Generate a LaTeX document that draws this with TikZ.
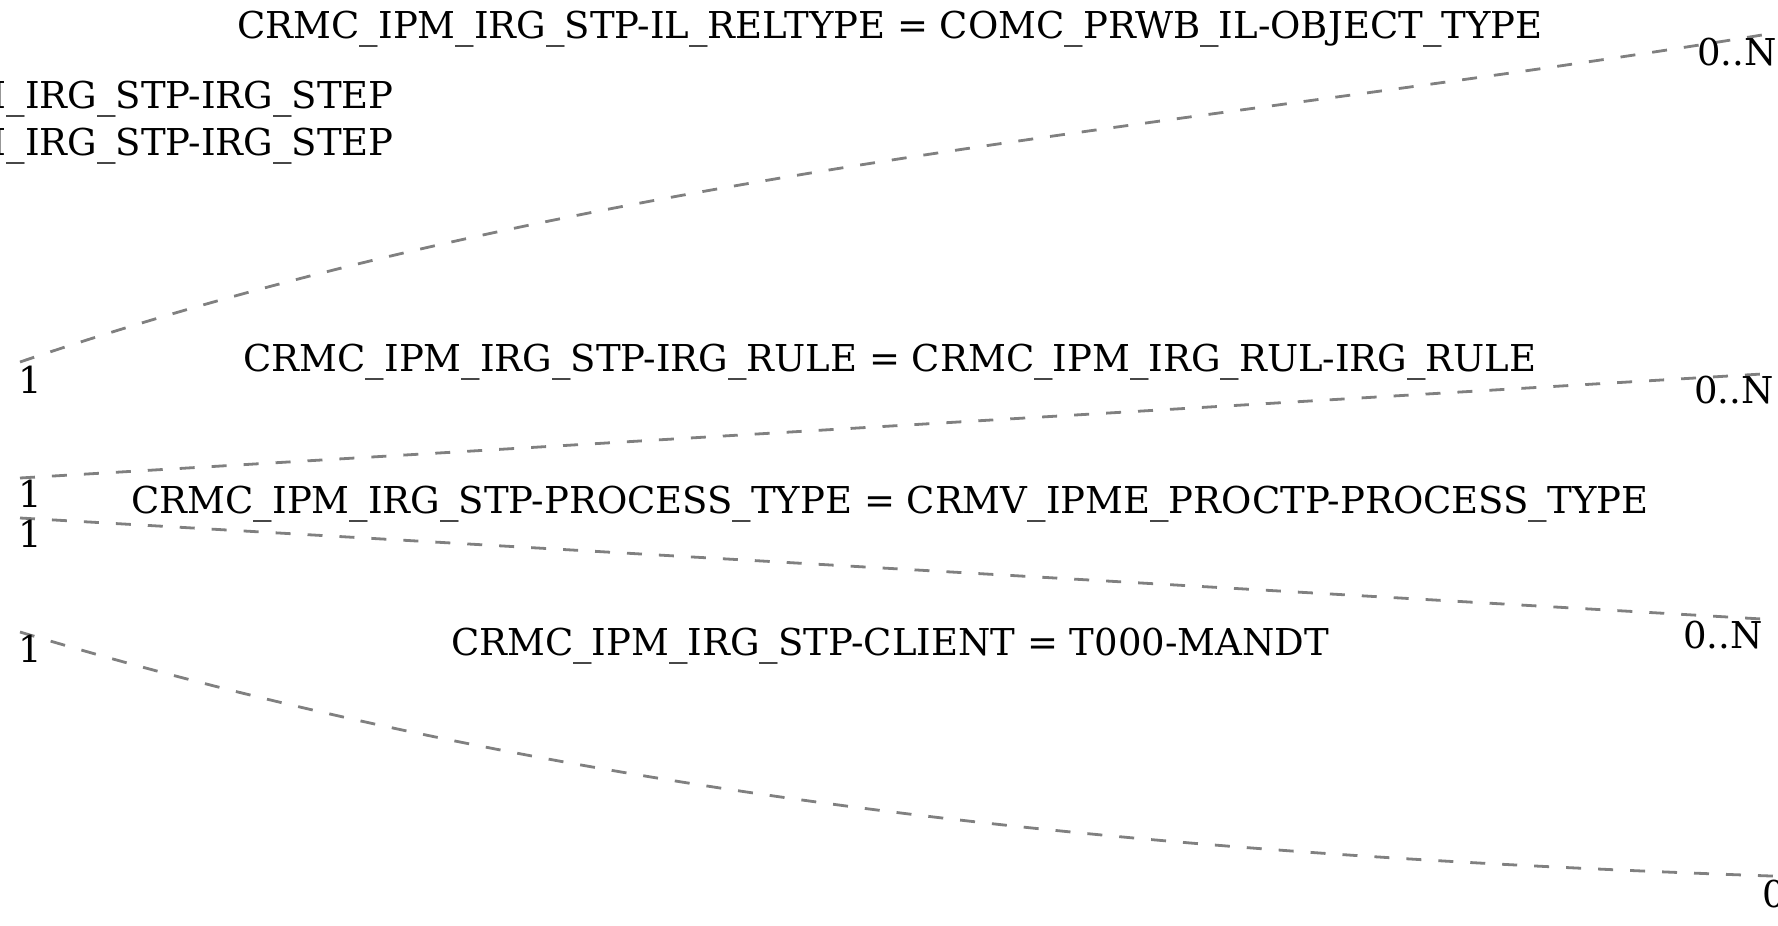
\documentclass[tikz,border=0pt]{standalone}
\usepackage{fontspec}
\setmainfont{DejaVu Serif}
\usetikzlibrary{positioning}

\begin{document}
\begin{tikzpicture}[
    x=0.5pt, y=-0.5pt,
    font=\fontsize{18.5}{22}\selectfont,
    rel/.style={draw=gray, line width=1.4pt, dash pattern=on 7.5pt off 8.5pt},
    elabel/.style={anchor=base, inner sep=0pt},
    card/.style={anchor=base, inner sep=0pt},
    cardr/.style={anchor=base west, inner sep=0pt},
  ]
  \useasboundingbox (0,0) rectangle (1778,926);
  % end points of the relations
  \coordinate (stpA) at (20,362);
  \coordinate (stpB) at (20,478);
  \coordinate (stpC) at (20,518);
  \coordinate (stpD) at (20,632);
  \coordinate (reltype) at (1762,35);
  \coordinate (rule) at (1762,374);
  \coordinate (proctype) at (1762,619);
  \coordinate (client) at (1800,877);
  % relations
  \draw[rel] (stpA) .. controls (600,165) and (1180,130) .. (reltype);
  \draw[rel] (stpB) -- (rule);
  \draw[rel] (stpC) -- (proctype);
  \draw[rel] (stpD) .. controls (613,811) and (1207,857) .. (client);
  % labels
  \node[elabel] (lstep1) at (394,108) [anchor=base east] {CRMC\_IPM\_IRG\_STP-IRG\_STEP};
  \node[elabel] (lstep2) at (394,155) [anchor=base east] {CRMC\_IPM\_IRG\_STP-IRG\_STEP};
  \node[elabel] (lreltype) at (890,39) {CRMC\_IPM\_IRG\_STP-IL\_RELTYPE = COMC\_PRWB\_IL-OBJECT\_TYPE};
  \node[elabel] (lrule) at (890,371) {CRMC\_IPM\_IRG\_STP-IRG\_RULE = CRMC\_IPM\_IRG\_RUL-IRG\_RULE};
  \node[elabel] (lproctype) at (890,513) {CRMC\_IPM\_IRG\_STP-PROCESS\_TYPE = CRMV\_IPME\_PROCTP-PROCESS\_TYPE};
  \node[elabel] (lclient) at (890,655) {CRMC\_IPM\_IRG\_STP-CLIENT = T000-MANDT};
  % cardinalities
  \node[card] (cA) at (30,393) {1};
  \node[card] (cB) at (30,507) {1};
  \node[card] (cC) at (30,547) {1};
  \node[card] (cD) at (30,662) {1};
  \node[cardr] (nA) at (1697,65) {0..N};
  \node[cardr] (nB) at (1694,403) {0..N};
  \node[cardr] (nC) at (1683,648) {0..N};
  \node[cardr] (nD) at (1762,907) {0..N};
\end{tikzpicture}
\end{document}
